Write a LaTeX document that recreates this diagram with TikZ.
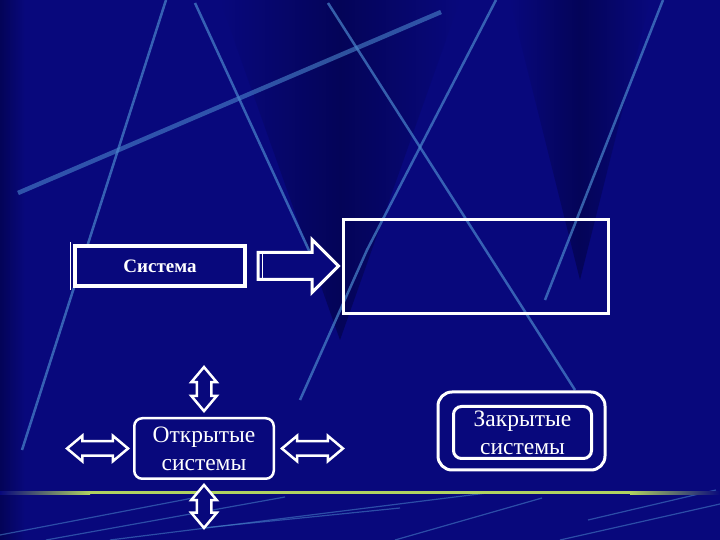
\documentclass[tikz,border=0pt]{standalone}
\usepackage{fontspec}
\setmainfont{Liberation Serif}
\usetikzlibrary{shapes.arrows,calc}
\definecolor{slidenavy}{RGB}{8,8,124}
\definecolor{slidedark}{RGB}{4,4,88}
\definecolor{streakblue}{RGB}{74,134,204}
\definecolor{rulegreen}{RGB}{176,210,96}
\begin{document}
\begin{tikzpicture}[x=1bp, y=1bp,
streak/.style={draw=streakblue, line width=2.5bp, opacity=0.7},
thinstreak/.style={draw=streakblue, line width=1.2bp, opacity=0.55},
sysbox/.style={rectangle, draw=white, fill=slidenavy, line width=4bp, minimum width=170bp, minimum height=40bp, inner sep=0pt, text=white, font=\fontsize{19bp}{23bp}\selectfont\bfseries},
resultbox/.style={rectangle, draw=white, line width=3bp, minimum width=265bp, minimum height=94bp},
openbox/.style={rectangle, rounded corners=8bp, draw=white, fill=slidenavy, line width=2.5bp, minimum width=139.5bp, minimum height=60.5bp, inner sep=1bp, align=center, text=white, font=\fontsize{23.5bp}{28bp}\selectfont},
closedbox/.style={openbox, line width=3bp, minimum width=138bp, minimum height=52bp},
rim/.style={draw=white, line width=3bp, rounded corners=14bp},
bigarrow/.style={single arrow, draw=white, fill=slidenavy, line width=3bp, minimum height=80.5bp, inner xsep=0pt, inner ysep=12bp, single arrow head extend=13bp},
twoway/.style={double arrow, draw=white, fill=slidenavy, line width=2.5bp, inner xsep=0pt, inner ysep=6bp, double arrow head extend=5.5bp, double arrow tip angle=80},
]
\useasboundingbox (0,0) rectangle (720,540);
\fill[slidenavy] (0,0) rectangle (720,540);
\shade[left color=slidenavy, right color=slidenavy, middle color=slidedark] (220,540) -- (460,540) -- (340,200) -- cycle;
\shade[left color=slidenavy, right color=slidenavy, middle color=slidedark] (510,540) -- (650,540) -- (580,260) -- cycle;
\shade[left color=slidedark, right color=slidenavy] (0,0) rectangle (25,540);
\draw[streak] (166,540) -- (22,90);
\draw[streak] (195,537) -- (318,270);
\draw[streak, line width=4.5bp, opacity=0.6] (18,347) -- (441,528);
\draw[streak] (328,537) -- (575,150);
\draw[streak] (496,540) -- (367,290) -- (300,140);
\draw[streak] (663,540) -- (545,240);
\draw[thinstreak] (0,5) -- (193,42);
\draw[thinstreak] (46,0) -- (285,43);
\draw[thinstreak] (110,0) -- (487,47);
\draw[thinstreak] (202,12) -- (400,32);
\draw[thinstreak] (395,0) -- (542,42);
\draw[thinstreak] (588,20) -- (716,50);
\draw[thinstreak] (560,0) -- (720,36);
\shade[left color=slidenavy, right color=rulegreen] (0,45.5) rectangle (90,48.5);
\fill[rulegreen] (90,45.5) rectangle (630,48.5);
\shade[left color=rulegreen, right color=slidenavy] (630,45.5) rectangle (720,48.5);

\node[sysbox] (S) at (160,274) {Система};
\draw[white, line width=1bp] ($(S.north west)+(-3,2)$) -- ($(S.south west)+(-3,-2)$);
\node[resultbox] (R) at (476,273.5) {};
\node[bigarrow, anchor=tail] (T) at ($(S.east)+(9.5,0)$) {};
\draw[white, line width=1.5bp] ($(T.before tail)+(6,0)$) -- ($(T.after tail)+(6,0)$);

\node[openbox] (O) at (204,91.5) {Открытые\\системы};
\node[twoway, minimum height=44bp, rotate=90, anchor=west] (U) at ($(O.north)+(0,4)$) {};
\node[twoway, minimum height=43bp, rotate=90, anchor=east] (D) at ($(O.south)+(0,-3)$) {};
\node[twoway, minimum height=61bp, anchor=east] (L) at ($(O.west)+(-3,0)$) {};
\node[twoway, minimum height=61bp, anchor=west] (Rt) at ($(O.east)+(5,0)$) {};

\node[closedbox] (C) at (522.5,107.5) {Закрытые\\системы};
\draw[rim] ($(C.south west)+(-14,-10)$) rectangle ($(C.north east)+(12,13)$);
\end{tikzpicture}
\end{document}
